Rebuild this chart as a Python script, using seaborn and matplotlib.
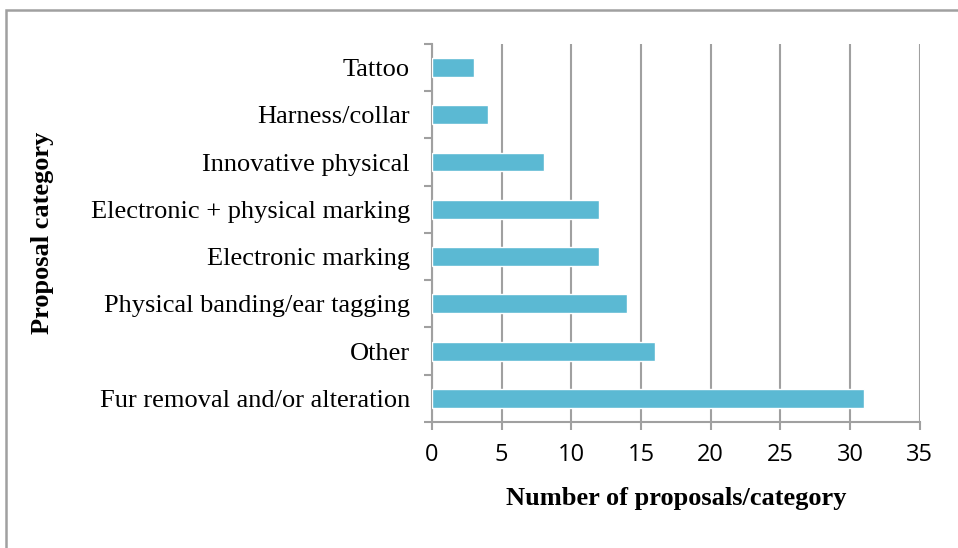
import matplotlib.pyplot as plt
import matplotlib.patches as mpatches
import pandas as pd
import seaborn as sns

categories = ["Tattoo", "Harness/collar", "Innovative physical",
              "Electronic + physical marking", "Electronic marking",
              "Physical banding/ear tagging", "Other",
              "Fur removal and/or alteration"]
counts = [3, 4, 8, 12, 12, 14, 16, 31]
x_ticks = [0, 5, 10, 15, 20, 25, 30, 35]

data = pd.DataFrame({"category": categories, "count": counts})

sns.set_style("white")
plt.rcParams["text.color"] = "black"
plt.rcParams["xtick.color"] = "black"
plt.rcParams["ytick.color"] = "black"
plt.rcParams["axes.labelcolor"] = "black"

fig = plt.figure(figsize=(9.58, 5.48), dpi=100)
ax = fig.add_axes([0.451, 0.230, 0.509, 0.690])

sns.barplot(x="count", y="category", data=data, color="#5BB9D3",
            saturation=1, width=0.4, ax=ax, zorder=3)

ax.set_xlim(0, 35)
ax.set_ylim(len(categories) - 0.5, -0.5)
ax.set_xticks(x_ticks)
ax.set_xticklabels([str(t) for t in x_ticks], fontfamily="Open Sans", fontsize=17)
ax.grid(axis="x", color="#A0A0A0", linewidth=1.5, zorder=0)

for s in ["top", "right"]:
    ax.spines[s].set_visible(False)
for s in ["left", "bottom"]:
    ax.spines[s].set_color("#A0A0A0")
    ax.spines[s].set_linewidth(1.5)

# y ticks at category boundaries
ax.set_yticks([i + 0.5 for i in range(-1, len(categories))], minor=True)
ax.tick_params(axis="y", which="minor", length=6, width=1.5, color="#A0A0A0", direction="out", left=True)
ax.tick_params(axis="y", which="major", length=0, pad=16)
ax.tick_params(axis="x", which="major", length=6, width=1.5, color="#A0A0A0",
               labelcolor="black", direction="out", bottom=True, pad=9)
for lab in ax.get_yticklabels():
    lab.set_fontfamily("Liberation Serif")
    lab.set_fontsize(19)
    lab.set_color("black")

ax.set_xlabel("Number of proposals/category", fontfamily="Liberation Serif",
              fontsize=19, fontweight="bold")
ax.set_ylabel("Proposal category", fontfamily="Liberation Serif",
              fontsize=19, fontweight="bold")
ax.xaxis.set_label_coords(0.5, -0.172)
ax.yaxis.set_label_coords(-0.776, 0.5)

border = mpatches.Rectangle((6 / 958, -0.05), 1.1, 1 - 10 / 548 + 0.05, transform=fig.transFigure,
                            fill=False, edgecolor="#A0A0A0", linewidth=1.8)
fig.patches.append(border)

fig.savefig("out.png", dpi=100)
